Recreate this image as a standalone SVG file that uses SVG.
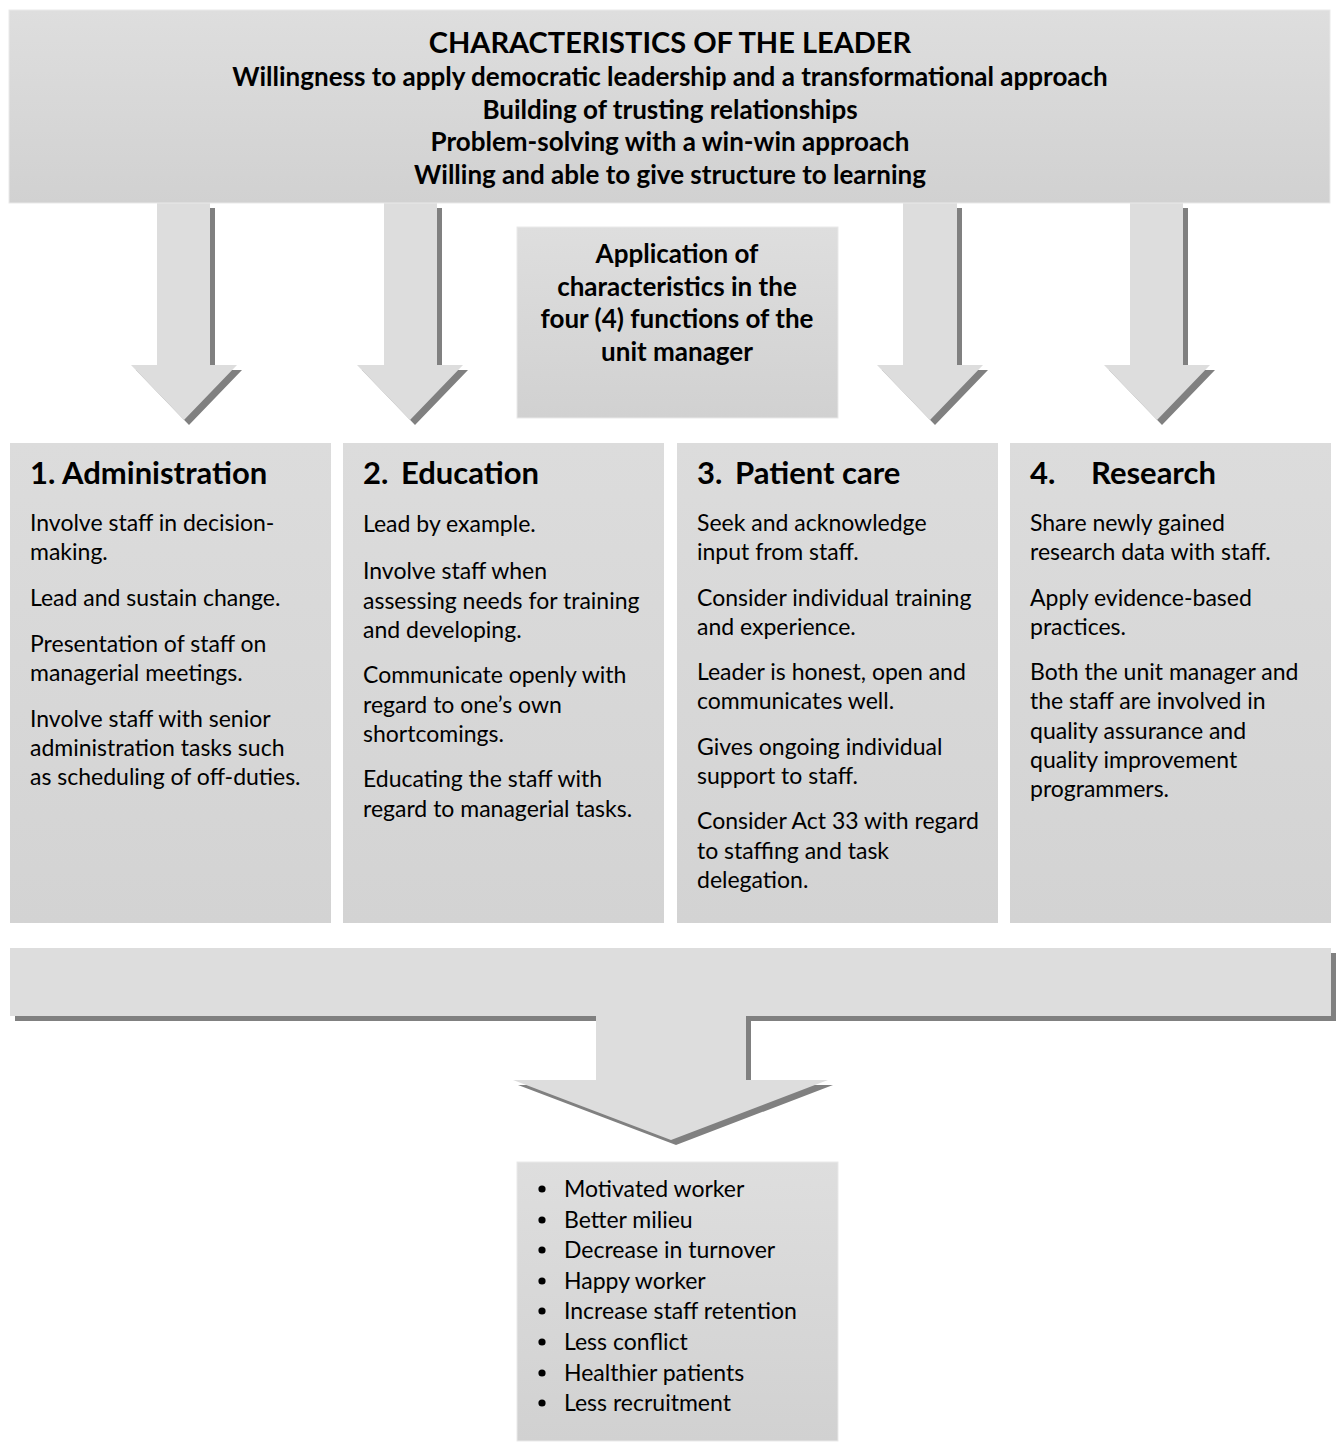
<svg xmlns="http://www.w3.org/2000/svg" width="1338" height="1443" viewBox="0 0 1338 1443">
  <defs>
    <linearGradient id="boxFill" x1="0" y1="0" x2="0" y2="1">
      <stop offset="0" stop-color="#dedede"/>
      <stop offset="1" stop-color="#d1d1d1"/>
    </linearGradient>
    <linearGradient id="colFill" x1="0" y1="0" x2="0" y2="1">
      <stop offset="0" stop-color="#dcdcdc"/>
      <stop offset="1" stop-color="#d3d3d3"/>
    </linearGradient>
  </defs>
  <style>
    .box { fill: url(#boxFill); stroke: #e9e9e9; stroke-width: 1; }
    .col { fill: url(#colFill); }
    .arrow { fill: #dddddd; }
    .shadow { fill: #808080; }
    text { font-family: Lato, "Liberation Sans", sans-serif; fill: #000; }
    .title { font-size: 29px; font-weight: bold; text-anchor: middle; }
    .sub { font-size: 26px; font-weight: bold; text-anchor: middle; }
    .head { font-size: 31px; font-weight: bold; }
    .body { font-size: 23px; }
  </style>

  <!-- arrows and connectors -->
  <g id="connectors">
    <g id="arrow-admin">
      <polygon class="shadow" transform="translate(5,5)" points="157,203 210,203 210,365 237,365 184,420 131,365 157,365"/>
      <polygon class="arrow" points="157,203 210,203 210,365 237,365 184,420 131,365 157,365"/>
    </g>
    <g id="arrow-education">
      <polygon class="shadow" transform="translate(5,5)" points="384,203 437,203 437,365 463,365 410,420 357,365 384,365"/>
      <polygon class="arrow" points="384,203 437,203 437,365 463,365 410,420 357,365 384,365"/>
    </g>
    <g id="arrow-patient">
      <polygon class="shadow" transform="translate(5,5)" points="903,203 957,203 957,365 983,365 930,420 877,365 903,365"/>
      <polygon class="arrow" points="903,203 957,203 957,365 983,365 930,420 877,365 903,365"/>
    </g>
    <g id="arrow-research">
      <polygon class="shadow" transform="translate(5,5)" points="1130,203 1183,203 1183,365 1210,365 1157,420 1104,365 1130,365"/>
      <polygon class="arrow" points="1130,203 1183,203 1183,365 1210,365 1157,420 1104,365 1130,365"/>
    </g>
    <g id="arrow-outcomes">
      <polygon class="shadow" transform="translate(5,5)" points="10,948 1331,948 1331,1016 746,1016 746,1080 828,1080 671,1140 513,1080 596,1080 596,1016 10,1016"/>
      <polygon class="arrow" points="10,948 1331,948 1331,1016 746,1016 746,1080 828,1080 671,1140 513,1080 596,1080 596,1016 10,1016"/>
    </g>
  </g>

  <!-- leader characteristics -->
  <g id="leader">
    <rect class="box" x="9" y="10" width="1321" height="193"/>
    <text class="title" x="670" y="53">CHARACTERISTICS OF THE LEADER</text>
    <text class="sub" x="670" y="86">Willingness to apply democratic leadership and a transformational approach</text>
    <text class="sub" x="670" y="119">Building of trusting relationships</text>
    <text class="sub" x="670" y="151">Problem-solving with a win-win approach</text>
    <text class="sub" x="670" y="184">Willing and able to give structure to learning</text>
  </g>

  <!-- application box -->
  <g id="application">
    <rect class="box" x="517" y="227" width="321" height="191"/>
    <text class="sub" x="677" y="263">Application of</text>
    <text class="sub" x="677" y="296">characteristics in the</text>
    <text class="sub" x="677" y="328">four (4) functions of the</text>
    <text class="sub" x="677" y="361">unit manager</text>
  </g>

  <!-- function 1 -->
  <g id="administration">
    <rect class="col" x="10" y="443" width="321" height="480"/>
    <text class="head" x="30" y="484">1.</text>
    <text class="head" x="62" y="484">Administration</text>
    <text class="body" x="30" y="531">Involve staff in decision-</text>
    <text class="body" x="30" y="560">making.</text>
    <text class="body" x="30" y="606">Lead and sustain change.</text>
    <text class="body" x="30" y="652">Presentation of staff on</text>
    <text class="body" x="30" y="681">managerial meetings.</text>
    <text class="body" x="30" y="727">Involve staff with senior</text>
    <text class="body" x="30" y="756">administration tasks such</text>
    <text class="body" x="30" y="785">as scheduling of off-duties.</text>
  </g>

  <!-- function 2 -->
  <g id="education">
    <rect class="col" x="343" y="443" width="321" height="480"/>
    <text class="head" x="363" y="484">2.</text>
    <text class="head" x="401" y="484">Education</text>
    <text class="body" x="363" y="532">Lead by example.</text>
    <text class="body" x="363" y="579">Involve staff when</text>
    <text class="body" x="363" y="609">assessing needs for training</text>
    <text class="body" x="363" y="638">and developing.</text>
    <text class="body" x="363" y="683">Communicate openly with</text>
    <text class="body" x="363" y="713">regard to one’s own</text>
    <text class="body" x="363" y="742">shortcomings.</text>
    <text class="body" x="363" y="787">Educating the staff with</text>
    <text class="body" x="363" y="817">regard to managerial tasks.</text>
  </g>

  <!-- function 3 -->
  <g id="patient-care">
    <rect class="col" x="677" y="443" width="321" height="480"/>
    <text class="head" x="697" y="484">3.</text>
    <text class="head" x="735" y="484">Patient care</text>
    <text class="body" x="697" y="531">Seek and acknowledge</text>
    <text class="body" x="697" y="560">input from staff.</text>
    <text class="body" x="697" y="606">Consider individual training</text>
    <text class="body" x="697" y="635">and experience.</text>
    <text class="body" x="697" y="680">Leader is honest, open and</text>
    <text class="body" x="697" y="709">communicates well.</text>
    <text class="body" x="697" y="755">Gives ongoing individual</text>
    <text class="body" x="697" y="784">support to staff.</text>
    <text class="body" x="697" y="829">Consider Act 33 with regard</text>
    <text class="body" x="697" y="859">to staffing and task</text>
    <text class="body" x="697" y="888">delegation.</text>
  </g>

  <!-- function 4 -->
  <g id="research">
    <rect class="col" x="1010" y="443" width="321" height="480"/>
    <text class="head" x="1030" y="484">4.</text>
    <text class="head" x="1091" y="484">Research</text>
    <text class="body" x="1030" y="531">Share newly gained</text>
    <text class="body" x="1030" y="560">research data with staff.</text>
    <text class="body" x="1030" y="606">Apply evidence-based</text>
    <text class="body" x="1030" y="635">practices.</text>
    <text class="body" x="1030" y="680">Both the unit manager and</text>
    <text class="body" x="1030" y="709">the staff are involved in</text>
    <text class="body" x="1030" y="739">quality assurance and</text>
    <text class="body" x="1030" y="768">quality improvement</text>
    <text class="body" x="1030" y="797">programmers.</text>
  </g>

  <!-- outcomes -->
  <g id="outcomes">
    <rect class="box" x="517" y="1162" width="321" height="279"/>
    <g fill="#000">
      <circle cx="542" cy="1189" r="3.6"/>
      <circle cx="542" cy="1220" r="3.6"/>
      <circle cx="542" cy="1250" r="3.6"/>
      <circle cx="542" cy="1281" r="3.6"/>
      <circle cx="542" cy="1311" r="3.6"/>
      <circle cx="542" cy="1342" r="3.6"/>
      <circle cx="542" cy="1373" r="3.6"/>
      <circle cx="542" cy="1403" r="3.6"/>
    </g>
    <text class="body" x="564" y="1197">Motivated worker</text>
    <text class="body" x="564" y="1228">Better milieu</text>
    <text class="body" x="564" y="1258">Decrease in turnover</text>
    <text class="body" x="564" y="1289">Happy worker</text>
    <text class="body" x="564" y="1319">Increase staff retention</text>
    <text class="body" x="564" y="1350">Less conflict</text>
    <text class="body" x="564" y="1381">Healthier patients</text>
    <text class="body" x="564" y="1411">Less recruitment</text>
  </g>
</svg>
